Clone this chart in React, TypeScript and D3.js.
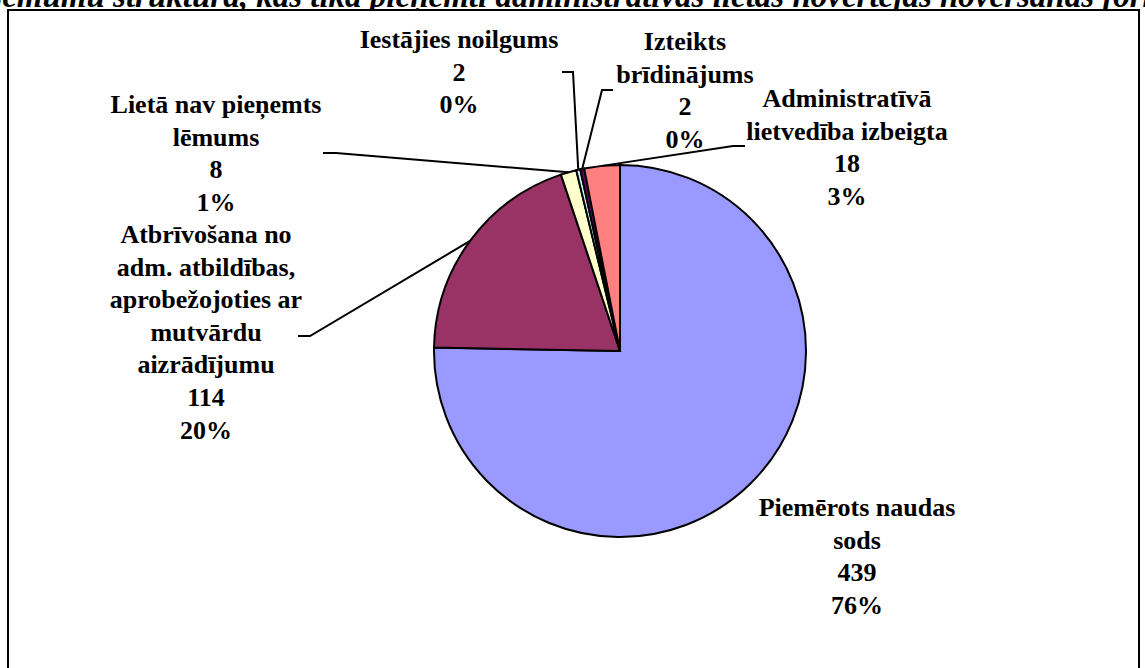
import React from "react";
import { pie, arc } from "d3";

// data
const categories = [
  "Piemērots naudas sods",
  "Atbrīvošana no adm. atbildības, aprobežojoties ar mutvārdu aizrādījumu",
  "Lietā nav pieņemts lēmums",
  "Iestājies noilgums",
  "Izteikts brīdinājums",
  "Administratīvā lietvedība izbeigta",
];
const values = [439, 114, 8, 2, 2, 18];
const percentLabels = ["76%", "20%", "1%", "0%", "0%", "3%"];
// how the category names wrap in the labels
const wrappedNames = [
  ["Piemērots naudas", "sods"],
  ["Atbrīvošana no", "adm. atbildības,", "aprobežojoties ar", "mutvārdu", "aizrādījumu"],
  ["Lietā nav pieņemts", "lēmums"],
  ["Iestājies noilgums"],
  ["Izteikts", "brīdinājums"],
  ["Administratīvā", "lietvedība izbeigta"],
];
const colors = ["#9999FF", "#993366", "#FFFFCC", "#CCFFFF", "#660066", "#FF8080"];
const title =
  "Lēmumu struktūra, kas tika pieņemti administratīvās lietas novērtējās novēršanas formā";

// layout
const W = 1145;
const H = 668;
const cx = 620;
const cy = 351;
const R = 186;
const lineH = 32.6;
// centre x and first-line centre y of each label
const labelPos = [
  [857, 508],
  [206, 235],
  [216, 105],
  [459, 40],
  [685, 42],
  [847, 99],
];
// leader line stubs near the labels (null = no leader)
const leaderStubs: (number[][] | null)[] = [
  null,
  [[298, 336], [310, 336]],
  [[323, 153], [336, 153]],
  [[562, 72], [573, 72]],
  [[613, 90], [602, 90]],
  [[745, 146], [733, 146]],
];

const font = "'Liberation Serif', 'Times New Roman', serif";

export default function App() {
  const arcs = pie<number>().sort(null).value((d) => d)(values);
  const arcGen = arc<any>().innerRadius(0).outerRadius(R);

  return (
    <svg
      width={W}
      height={H}
      style={{ position: "absolute", left: 0, top: 0, background: "#fff" }}
    >
      <text
        x={-18}
        y={7}
        fontFamily={font}
        fontWeight="bold"
        fontStyle="italic"
        fontSize={33}
        fill="#000"
      >
        {title}
      </text>
      <rect x={8} y={10} width={1131} height={700} fill="#fff" stroke="#000" strokeWidth={2} />

      <g transform={`translate(${cx},${cy})`}>
        {arcs.map((a, i) => (
          <path key={i} d={arcGen(a) as string} fill={colors[i]} stroke="#000" strokeWidth={2} />
        ))}
      </g>

      {arcs.map((a, i) => {
        const stub = leaderStubs[i];
        if (!stub) return null;
        const mid = (a.startAngle + a.endAngle) / 2;
        const px = cx + R * Math.sin(mid);
        const py = cy - R * Math.cos(mid);
        const pts = [...stub, [px, py]].map((p) => p.join(",")).join(" ");
        return <polyline key={i} points={pts} fill="none" stroke="#000" strokeWidth={2} />;
      })}

      {categories.map((c, i) => {
        const lines = [...wrappedNames[i], String(values[i]), percentLabels[i]];
        const [x, y0] = labelPos[i];
        return (
          <text
            key={c}
            textAnchor="middle"
            fontFamily={font}
            fontWeight="bold"
            fontSize={26}
            fill="#000"
          >
            {lines.map((l, j) => (
              <tspan key={j} x={x} y={y0 + j * lineH + 8}>
                {l}
              </tspan>
            ))}
          </text>
        );
      })}
    </svg>
  );
}
